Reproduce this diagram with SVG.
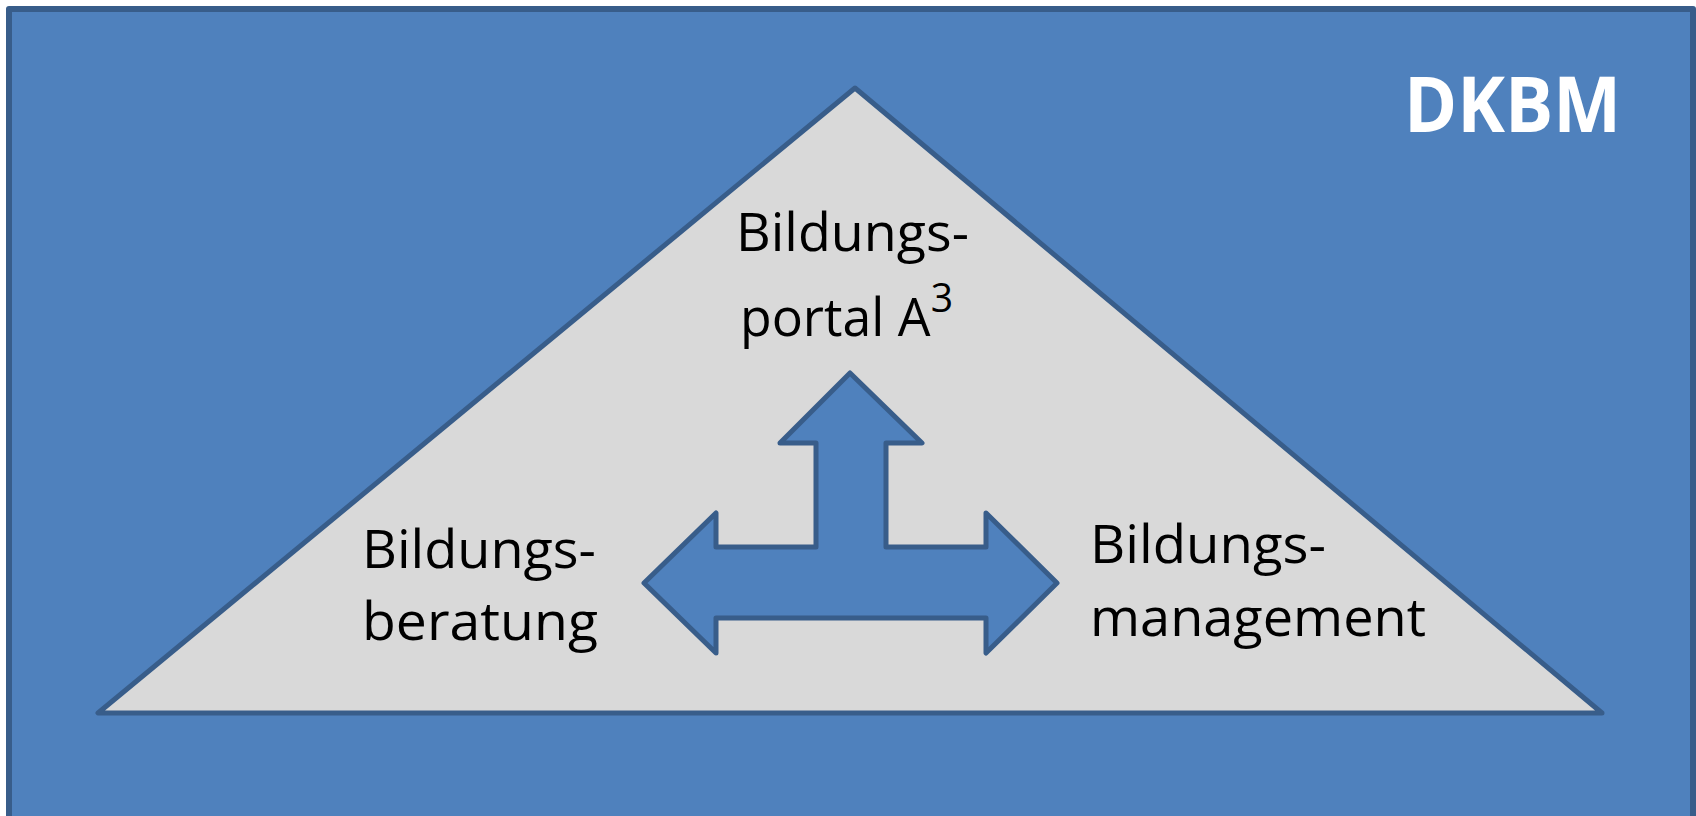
<svg xmlns="http://www.w3.org/2000/svg" width="1696" height="816" viewBox="0 0 1696 816">
<style>
.lbl{font-family:"Open Sans","Liberation Sans",sans-serif;font-size:53px;fill:#000}
.shape{stroke:#385D8A;stroke-linejoin:round}
</style>
<rect width="1696" height="816" fill="#ffffff"/>
<g id="frame">
<rect class="shape" x="9" y="9" width="1684" height="810" fill="#4F81BD" stroke-width="6"/>
<text x="1404" y="132" font-family="'Open Sans','Liberation Sans',sans-serif" font-weight="bold" font-size="77" fill="#ffffff" textLength="217" lengthAdjust="spacingAndGlyphs">DKBM</text>
</g>
<g id="triangle">
<polygon class="shape" points="855,88 98,713 1602,713" fill="#D9D9D9" stroke-width="5"/>
</g>
<g id="arrows">
<polygon class="shape" points="850,373 922,443 886,443 886,547 986,547 986,513 1057,583 986,653 986,618 716,618 716,653 644,583 716,513 716,547 816,547 816,443 780,443" fill="#4F81BD" stroke-width="5"/>
</g>
<g id="node-portal">
<text class="lbl" x="736" y="251" textLength="233" lengthAdjust="spacingAndGlyphs">Bildungs-</text>
<text class="lbl" x="740" y="336" textLength="213" lengthAdjust="spacingAndGlyphs">portal A<tspan font-size="40" dy="-24">3</tspan></text>
</g>
<g id="node-beratung">
<text class="lbl" x="362" y="568" textLength="234" lengthAdjust="spacingAndGlyphs">Bildungs-</text>
<text class="lbl" x="362" y="640" textLength="236" lengthAdjust="spacingAndGlyphs">beratung</text>
</g>
<g id="node-management">
<text class="lbl" x="1090" y="563" textLength="236" lengthAdjust="spacingAndGlyphs">Bildungs-</text>
<text class="lbl" x="1090" y="636" textLength="336" lengthAdjust="spacingAndGlyphs">management</text>
</g>
</svg>
